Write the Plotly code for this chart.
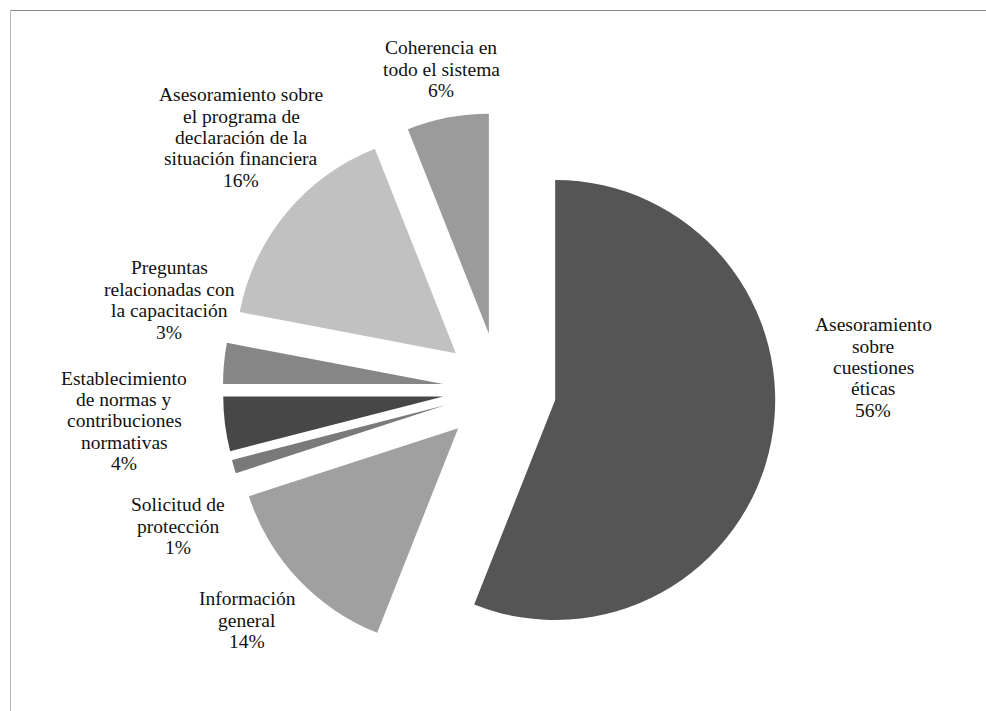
import plotly.graph_objects as go

# Consultation topics (clockwise from 12 o'clock) and their shares, in percent
categories = [
    "Asesoramiento<br>sobre<br>cuestiones<br>éticas",
    "Información<br>general",
    "Solicitud de<br>protección",
    "Establecimiento<br>de normas y<br>contribuciones<br>normativas",
    "Preguntas<br>relacionadas con<br>la capacitación",
    "Asesoramiento sobre<br>el programa de<br>declaración de la<br>situación financiera",
    "Coherencia en<br>todo el sistema",
]
shares = [56, 14, 1, 4, 3, 16, 6]
slice_colors = ["#555555", "#a0a0a0", "#7a7a7a", "#474747", "#868686", "#c1c1c1", "#9b9b9b"]

W, H = 986, 711

# Centre of each label block in pixels, same order as categories
label_centres = [
    (873, 367.5),
    (247, 620),
    (178, 526),
    (124, 421),
    (169, 300),
    (241, 137.5),
    (441, 69),
]
LINE_STEP = 21.4

fig = go.Figure(
    go.Pie(
        labels=[c.replace("<br>", " ") for c in categories],
        values=shares,
        sort=False,
        direction="clockwise",
        rotation=0,
        pull=0.2576,
        marker=dict(colors=slice_colors, line=dict(width=0)),
        textinfo="none",
        hoverinfo="label+percent",
        domain=dict(x=[0.22596, 0.78722], y=[0.06315, 0.84149]),
    )
)

annotations = []
for name, value, (cx, cy) in zip(categories, shares, label_centres):
    lines = name.split("<br>") + [f"{value}%"]
    n = len(lines)
    for i, line in enumerate(lines):
        py = cy + (i - (n - 1) / 2) * LINE_STEP
        annotations.append(
            dict(
                x=cx / W,
                y=1 - py / H,
                xref="paper",
                yref="paper",
                text=line,
                showarrow=False,
                xanchor="center",
                yanchor="middle",
                font=dict(family="Liberation Serif", size=19.5, color="#111111"),
            )
        )

# Chart frame: top and left edges
shapes = [
    dict(type="line", xref="paper", yref="paper",
         x0=10 / W, x1=1.02, y0=1 - 10.5 / H, y1=1 - 10.5 / H,
         line=dict(color="#8a8a8a", width=1)),
    dict(type="line", xref="paper", yref="paper",
         x0=10.5 / W, x1=10.5 / W, y0=1 - 10 / H, y1=-0.02,
         line=dict(color="#b8b8b8", width=1)),
]

fig.update_layout(
    width=W,
    height=H,
    margin=dict(l=0, r=0, t=0, b=0),
    paper_bgcolor="white",
    plot_bgcolor="white",
    showlegend=False,
    annotations=annotations,
    shapes=shapes,
)

fig.write_html("out.html")
